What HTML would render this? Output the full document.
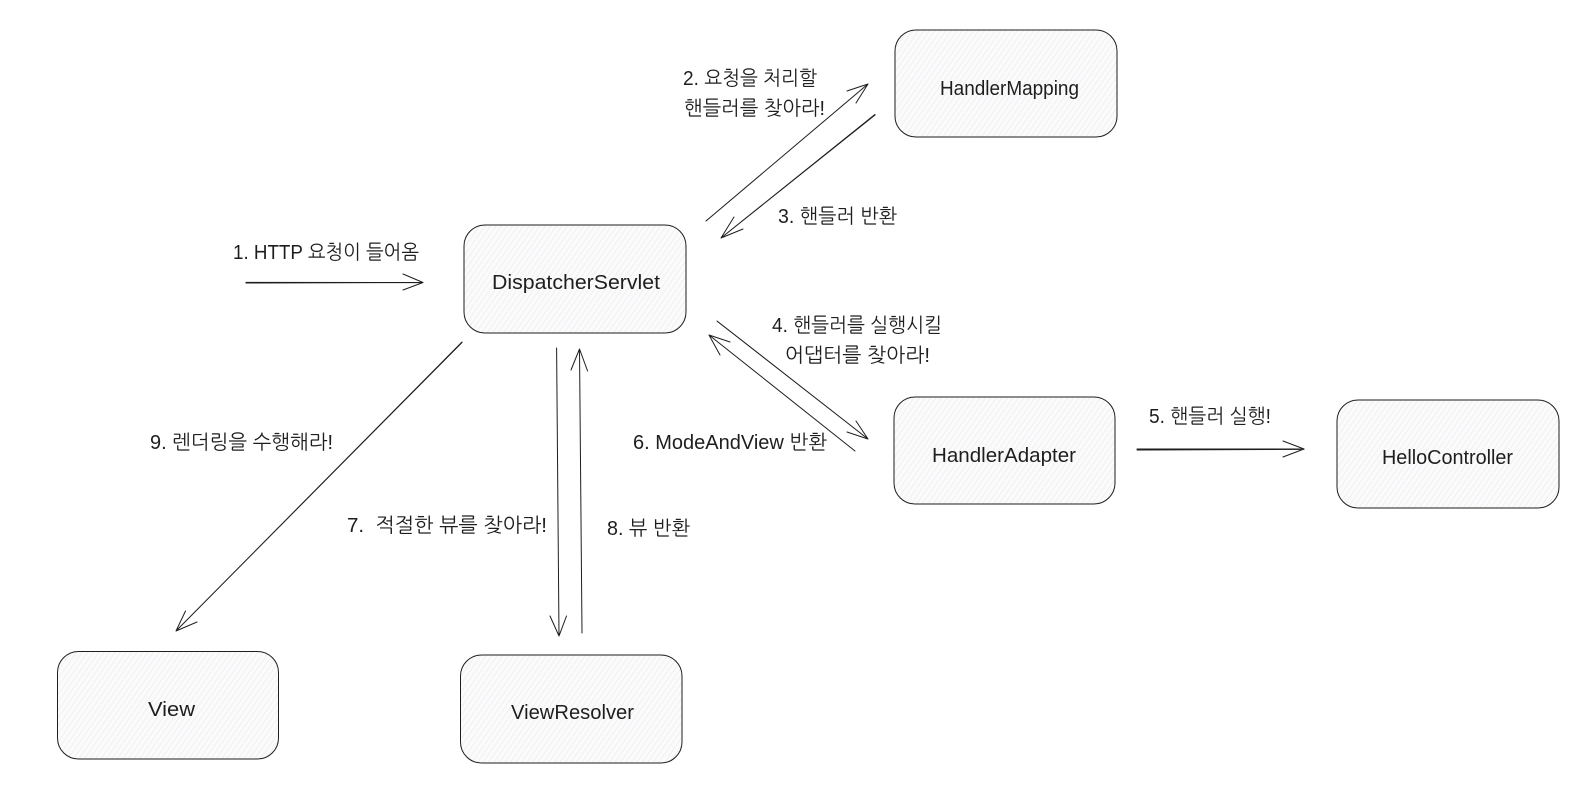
<!DOCTYPE html>
<html>
<head>
<meta charset="utf-8">
<style>
html,body{margin:0;padding:0;background:#fff;width:1586px;height:795px;overflow:hidden}
svg{display:block}
text{font-family:"Liberation Sans","NanumGothic","Noto Sans CJK KR",sans-serif;font-size:20px;fill:#1e1e1e}
.l{fill:none;stroke:#1e1e1e;stroke-width:1;stroke-linecap:round;stroke-linejoin:round}
.b{fill:url(#h)}
</style>
</head>
<body>
<svg width="1586" height="795" viewBox="0 0 1586 795" xmlns="http://www.w3.org/2000/svg">
<defs>
<pattern id="h" width="4.5" height="4.5" patternUnits="userSpaceOnUse" patternTransform="rotate(35)">
<rect width="4.5" height="4.5" fill="#fbfbfc"/>
<line x1="0" y1="0" x2="0" y2="4.5" stroke="#e9ecef" stroke-width="1.4"/>
</pattern>
</defs>
<rect class="b" x="895" y="30" width="222" height="107" rx="21"/>
<rect class="l" x="895" y="30" width="222" height="107" rx="21"/>
<rect class="b" x="464" y="225" width="222" height="108" rx="21"/>
<rect class="l" x="464" y="225" width="222" height="108" rx="21"/>
<rect class="b" x="894" y="397" width="221" height="107" rx="21"/>
<rect class="l" x="894" y="397" width="221" height="107" rx="21"/>
<rect class="b" x="1337" y="400" width="222" height="108" rx="21"/>
<rect class="l" x="1337" y="400" width="222" height="108" rx="21"/>
<rect class="b" x="57.5" y="651.5" width="221" height="107.5" rx="21"/>
<rect class="l" x="57.5" y="651.5" width="221" height="107.5" rx="21"/>
<rect class="b" x="460.5" y="655" width="221.5" height="108" rx="21"/>
<rect class="l" x="460.5" y="655" width="221.5" height="108" rx="21"/>

<path class="l" d="M246 283L423 282.5M246 282.4L423 282.5M403 274L423 282.5L403 290"/>
<path class="l" d="M706 221L868 84M847 91L868 84L856 103"/>
<path class="l" d="M875 115L721 238M875 114.4L721 238M734 217L721 238L743 229"/>
<path class="l" d="M717 321L868 439M717.5 321.5L868 439M856 421L868 439L847 432"/>
<path class="l" d="M855 451L709 335M730 342L709 335L720 355"/>
<path class="l" d="M1137 449L1304 449M1137 450L1304 449.4M1283 441L1304 449L1283 457"/>
<path class="l" d="M462 342L176 631M462 342.5L176 631M185.5 611L176 631L197 622"/>
<path class="l" d="M556.6 348L559 636M550 616L559 636L566.5 616"/>
<path class="l" d="M582 633L579.5 349M571 370L579.5 349L587.6 371"/>

<text x="233" y="259" textLength="186" lengthAdjust="spacingAndGlyphs">1. HTTP 요청이 들어옴</text>
<text x="683" y="85" textLength="134" lengthAdjust="spacingAndGlyphs">2. 요청을 처리할</text>
<text x="684" y="115" textLength="141" lengthAdjust="spacingAndGlyphs">핸들러를 찾아라!</text>
<text x="778" y="223" textLength="119" lengthAdjust="spacingAndGlyphs">3. 핸들러 반환</text>
<text x="772" y="332" textLength="170" lengthAdjust="spacingAndGlyphs">4. 핸들러를 실행시킬</text>
<text x="785" y="362" textLength="145" lengthAdjust="spacingAndGlyphs">어댑터를 찾아라!</text>
<text x="633" y="449" textLength="194" lengthAdjust="spacingAndGlyphs">6. ModeAndView 반환</text>
<text x="1149" y="423" textLength="122" lengthAdjust="spacingAndGlyphs">5. 핸들러 실행!</text>
<text x="150" y="449" textLength="183" lengthAdjust="spacingAndGlyphs">9. 렌더링을 수행해라!</text>
<text x="347" y="532" textLength="200" lengthAdjust="spacingAndGlyphs" xml:space="preserve">7.  적절한 뷰를 찾아라!</text>
<text x="607" y="535" textLength="83" lengthAdjust="spacingAndGlyphs">8. 뷰 반환</text>

<text x="940" y="95" textLength="139" lengthAdjust="spacingAndGlyphs">HandlerMapping</text>
<text x="492" y="289" textLength="168" lengthAdjust="spacingAndGlyphs">DispatcherServlet</text>
<text x="932" y="462" textLength="144" lengthAdjust="spacingAndGlyphs">HandlerAdapter</text>
<text x="1382" y="464" textLength="131" lengthAdjust="spacingAndGlyphs">HelloController</text>
<text x="148" y="716" textLength="47" lengthAdjust="spacingAndGlyphs">View</text>
<text x="511" y="719" textLength="123" lengthAdjust="spacingAndGlyphs">ViewResolver</text>
</svg>
</body>
</html>
